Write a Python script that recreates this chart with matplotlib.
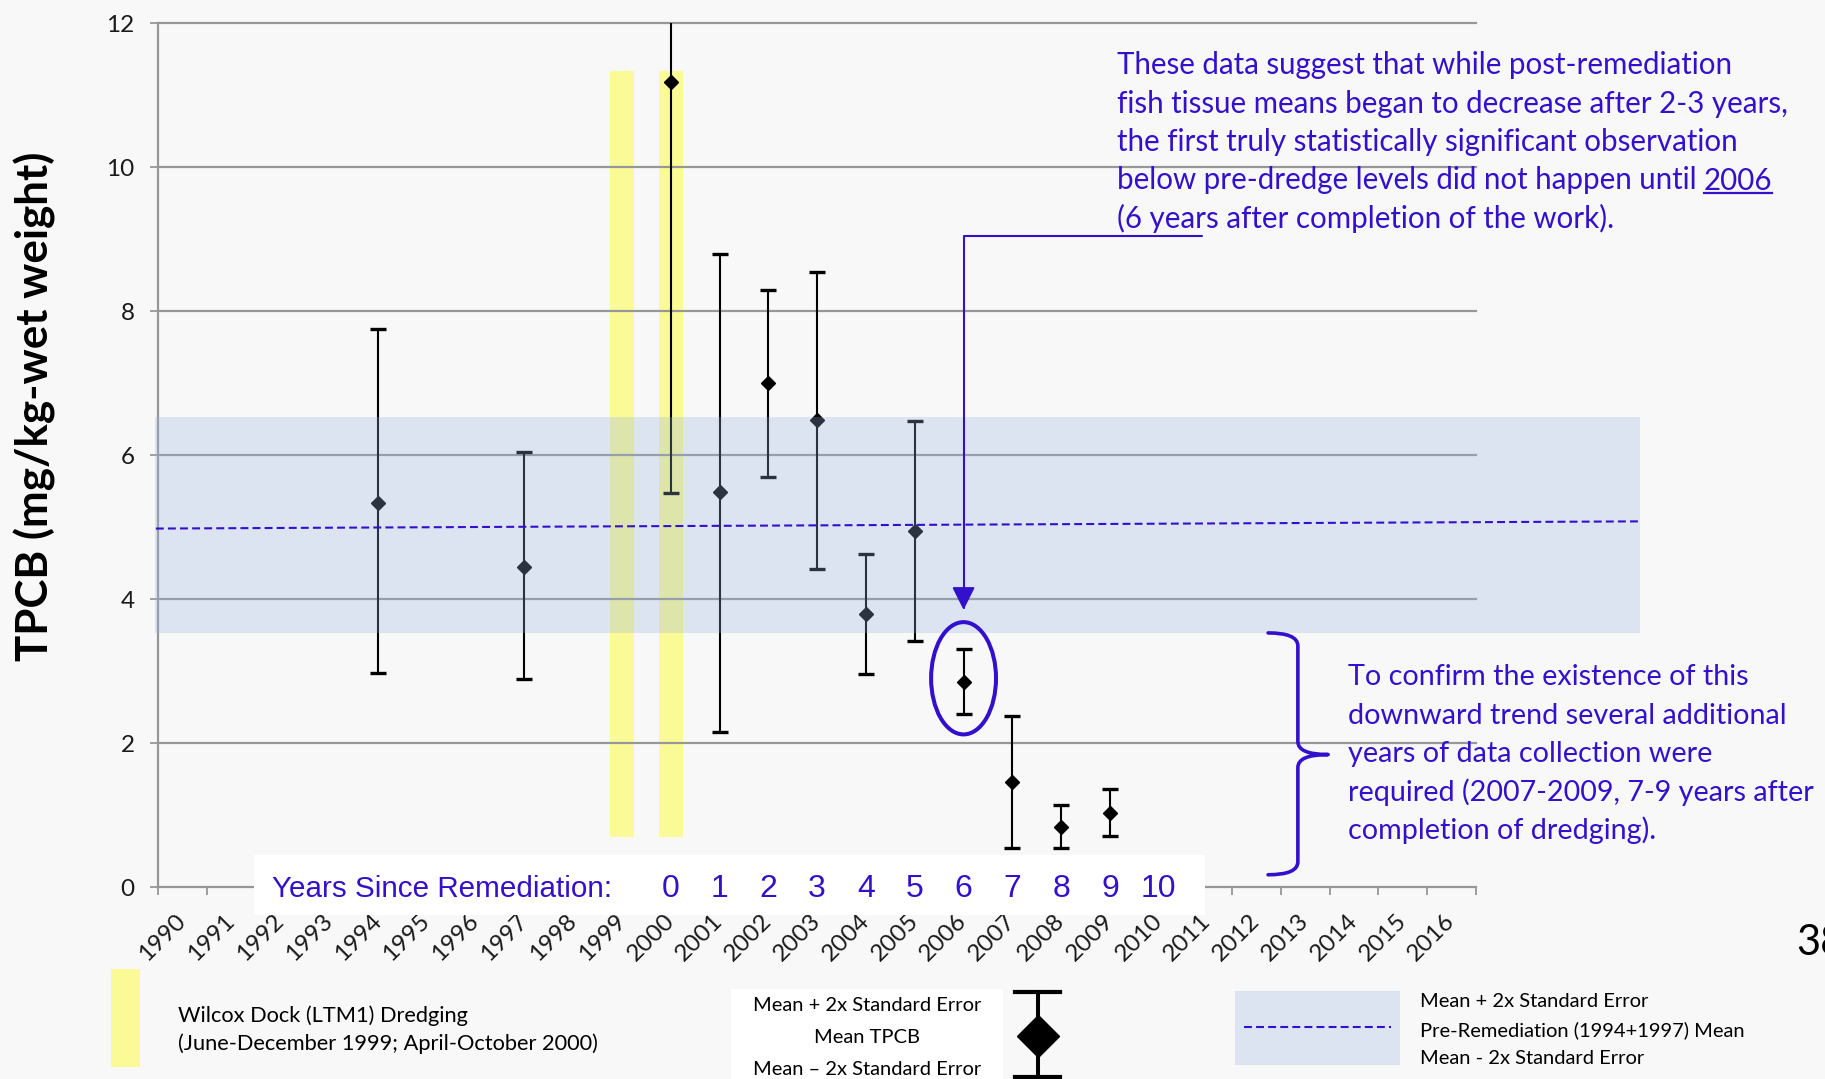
import numpy as np
import matplotlib
matplotlib.use("Agg")
import matplotlib.pyplot as plt
from matplotlib.patches import Rectangle, Ellipse, PathPatch
from matplotlib.path import Path
from matplotlib.lines import Line2D
from matplotlib import font_manager

W, H = 1825, 1079

# data
years = list(range(1990, 2017))
obs_years = [1994, 1997, 2000, 2001, 2002, 2003, 2004, 2005, 2006, 2007, 2008, 2009]
mean_tpcb = [5.34, 4.45, 11.18, 5.49, 7.00, 6.49, 3.79, 4.94, 2.85, 1.46, 0.84, 1.03]
upper_2se = [7.75, 6.05, 13.50, 8.79, 8.30, 8.54, 4.63, 6.47, 3.30, 2.38, 1.14, 1.36]
lower_2se = [2.97, 2.89, 5.47, 2.16, 5.69, 4.42, 2.96, 3.42, 2.40, 0.54, 0.54, 0.71]

dredge_years = [1999, 2000]
dredge_top = 11.34
dredge_bottom = 0.70

band_lo, band_hi = 3.53, 6.53          # pre-remediation mean -/+ 2 SE
band_x = [1989.43, 2019.86]
pre_mean_x = [1989.45, 2019.86]
pre_mean_y = [4.98, 5.08]

remed_years = list(range(2000, 2011))
years_since = list(range(0, 11))

blue = "#3311cc"
grid_c = "#979797"
bg = "#f8f8f8"
yellow = "#fafa96"
band_c = "#97b3e0"
band_a = 0.285
txt_c = "#1a1a1a"

names = {f.name for f in font_manager.fontManager.ttflist}
narrow = "Liberation Sans Narrow" if "Liberation Sans Narrow" in names else "Liberation Sans"
plt.rcParams["font.family"] = ["Lato", "DejaVu Sans"]


def fx(x):
    return x / W


def fy(y):
    return 1 - y / H


fig = plt.figure(figsize=(W / 100, H / 100), dpi=100)
fig.patch.set_facecolor(bg)
rend = fig.canvas.get_renderer()


def fit(t, target, vertical=False):
    bb = t.get_window_extent(renderer=rend)
    size = bb.height if vertical else bb.width
    t.set_fontsize(t.get_fontsize() * target / size)
    return t.get_fontsize()


ax = fig.add_axes([fx(158.3), fy(887), (1476 - 158.3) / W, (887 - 23.3) / H])
ax.set_facecolor(bg)
ax.set_xlim(1989.5, 2016.5)
ax.set_ylim(0, 12)

for s in ["top", "right"]:
    ax.spines[s].set_visible(False)
for s in ["left", "bottom"]:
    ax.spines[s].set_color(grid_c)
    ax.spines[s].set_linewidth(1.6)

ax.set_yticks(range(0, 13, 2))
for yv in range(2, 13, 2):
    ax.axhline(yv, color=grid_c, lw=1.6, zorder=1.5, clip_on=False)

ax.set_xticks(np.arange(1989.5, 2017, 1.0))
ax.set_xticks(years, minor=True)
ax.set_xticklabels(years, minor=True, rotation=45, ha="right", va="center",
                   rotation_mode="anchor")
ax.tick_params(axis="x", which="major", length=6, width=1.3, color=grid_c,
               labelbottom=False)
ax.tick_params(axis="x", which="minor", length=0, pad=22, labelsize=17.5,
               labelcolor=txt_c)
ax.tick_params(axis="y", length=6, width=1.3, color=grid_c, pad=11,
               labelsize=17.5, labelcolor=txt_c)

# dredging periods
ax.bar(dredge_years, [dredge_top - dredge_bottom] * len(dredge_years),
       bottom=dredge_bottom, width=0.5, color=yellow, zorder=1)

# fish tissue means with +/- 2 SE
yerr = [np.array(mean_tpcb) - np.array(lower_2se),
        np.array(upper_2se) - np.array(mean_tpcb)]
ax.errorbar(obs_years, mean_tpcb, yerr=yerr, fmt="D", color="black", ms=7.5,
            elinewidth=1.5, capsize=5.8, capthick=2.4, zorder=3)

# pre-remediation band and mean
ax.add_patch(Rectangle((band_x[0], band_lo), band_x[1] - band_x[0], band_hi - band_lo,
                       facecolor=band_c, alpha=band_a, lw=0, zorder=4, clip_on=False))
ax.plot(pre_mean_x, pre_mean_y, color=blue, lw=1.5, ls=(0, (3.8, 2.0)),
        zorder=5, clip_on=False)

# years since remediation strip
ax.add_patch(Rectangle((1991.46, -0.39), 2010.95 - 1991.46, 0.84,
                       facecolor="white", lw=0, zorder=6, clip_on=False))
t = ax.text(1991.83, -0.14, "Years Since Remediation:", family=narrow, fontsize=25,
            color=blue, va="baseline", zorder=7, clip_on=False)
fit(t, 340)
for yr, n in zip(remed_years, years_since):
    ax.text(yr, -0.14, str(n), family=narrow, fontsize=23, color=blue,
            ha="center", va="baseline", zorder=7, clip_on=False)

# 2006 callout
ax.add_patch(Ellipse((2006, 2.90), 1.33, 1.56, fill=False, ec=blue, lw=2.9,
                     zorder=6, clip_on=False))
ax.annotate("", xy=(2006, 3.85), xytext=(2010.88, 9.04), annotation_clip=False,
            arrowprops=dict(arrowstyle="-|>,head_length=0.7,head_width=0.35",
                            mutation_scale=20, color=blue, lw=1.5,
                            shrinkA=0, shrinkB=0,
                            connectionstyle="angle,angleA=180,angleB=90,rad=0"),
            zorder=6)

# brace over 2007-2009
xe, xs, xt = 2012.24, 2012.85, 2013.47
yt, yb, ym, r = 3.53, 0.17, 1.84, 0.18
verts = [(xe, yt), (xs, yt), (xs, yt - r), (xs, ym + r), (xs, ym), (xt, ym),
         (xs, ym), (xs, ym - r), (xs, yb + r), (xs, yb), (xe, yb)]
codes = [Path.MOVETO, Path.CURVE3, Path.CURVE3, Path.LINETO, Path.CURVE3, Path.CURVE3,
         Path.CURVE3, Path.CURVE3, Path.LINETO, Path.CURVE3, Path.CURVE3]
ax.add_patch(PathPatch(Path(verts, codes), fill=False, ec=blue, lw=2.6,
                       capstyle="round", joinstyle="round", zorder=6, clip_on=False))

# y label
t = fig.text(fx(34.5), fy(406), "TPCB (mg/kg-wet weight)", rotation=90,
             ha="center", va="center", fontsize=28, fontweight="bold", color="black")
fit(t, 510, vertical=True)

# blue notes
top_lines = ["These data suggest that while post-remediation",
             "fish tissue means began to decrease after 2-3 years,",
             "the first truly statistically significant observation",
             "below pre-dredge levels did not happen until",
             "(6 years after completion of the work)."]
top_base = [74, 112.5, 151, 189.5, 228]
t = fig.text(fx(1116.7), fy(top_base[0]), top_lines[0], color=blue, fontsize=19,
             va="baseline")
note_size = fit(t, 617)
for line, b in zip(top_lines[1:], top_base[1:]):
    t = fig.text(fx(1116.7), fy(b), line, color=blue, fontsize=note_size, va="baseline")
t4 = fig.texts[-2]
bb = t4.get_window_extent(renderer=rend)
x2006 = bb.x1 + 0.25 * note_size * 100 / 72
t = fig.text(x2006 / W, fy(top_base[3]), "2006", color=blue, fontsize=note_size,
             va="baseline")
bb = t.get_window_extent(renderer=rend)
fig.add_artist(Line2D([bb.x0 / W, bb.x1 / W], [fy(193)] * 2, color=blue, lw=1.6,
                      transform=fig.transFigure))

right_lines = ["To confirm the existence of this",
               "downward trend several additional",
               "years of data collection were",
               "required (2007-2009, 7-9 years after",
               "completion of dredging)."]
right_base = [685, 723.5, 762, 800.5, 839]
right_texts = [fig.text(fx(1347.7), fy(b), line, color=blue, fontsize=note_size,
                        va="baseline") for line, b in zip(right_lines, right_base)]
right_size = fit(right_texts[3], 466)
for t in right_texts:
    t.set_fontsize(right_size)

# slide number, cut by the page edge
fig.text(fx(1796.7), fy(955), "38", fontsize=30, color="black", va="baseline")

# legend: dredging
fig.add_artist(Rectangle((fx(111), fy(1066.7)), (140 - 111) / W, (1066.7 - 969) / H,
                         transform=fig.transFigure, facecolor=yellow, lw=0))
t = fig.text(fx(178.4), fy(1050), "(June-December 1999; April-October 2000)",
             fontsize=14, color="black", va="baseline")
leg_size = fit(t, 421)
fig.text(fx(178.4), fy(1021.7), "Wilcox Dock (LTM1) Dredging", fontsize=leg_size,
         color="black", va="baseline")

# legend: error bar key
fig.add_artist(Rectangle((fx(731), fy(1079)), (1003 - 731) / W, (1079 - 989) / H,
                         transform=fig.transFigure, facecolor="white", lw=0))
key_lines = ["Mean + 2x Standard Error", "Mean TPCB", "Mean \u2013 2x Standard Error"]
key_base = [1010.7, 1042.7, 1075]
t = fig.text(fx(867), fy(key_base[0]), key_lines[0], fontsize=13, ha="center",
             va="baseline", color="black")
key_size = fit(t, 228)
for line, b in zip(key_lines[1:], key_base[1:]):
    fig.text(fx(867), fy(b), line, fontsize=key_size, ha="center", va="baseline",
             color="black")
kx = 1037.5
fig.add_artist(Line2D([fx(kx)] * 2, [fy(992), fy(1077)], color="black", lw=2.9,
                      transform=fig.transFigure))
for yy in [992, 1077]:
    fig.add_artist(Line2D([fx(kx - 22), fx(kx + 22)], [fy(yy)] * 2, color="black",
                          lw=3, transform=fig.transFigure))
fig.add_artist(Line2D([fx(kx)], [fy(1036)], marker="D", ms=21, color="black",
                      transform=fig.transFigure))

# legend: pre-remediation band
fig.add_artist(Rectangle((fx(1235), fy(1065)), (1400 - 1235) / W, (1065 - 991) / H,
                         transform=fig.transFigure, facecolor=band_c, alpha=band_a, lw=0))
fig.add_artist(Line2D([fx(1244), fx(1391)], [fy(1026.7)] * 2, color=blue, lw=1.5,
                      ls=(0, (3.8, 2.0)), transform=fig.transFigure))
band_lines = ["Mean + 2x Standard Error", "Pre-Remediation (1994+1997) Mean",
              "Mean - 2x Standard Error"]
band_base = [1006.7, 1036, 1064]
for line, b in zip(band_lines, band_base):
    fig.text(fx(1419.6), fy(b), line, fontsize=key_size, va="baseline", color="black")

fig.savefig("out.png", dpi=100, facecolor=bg)
